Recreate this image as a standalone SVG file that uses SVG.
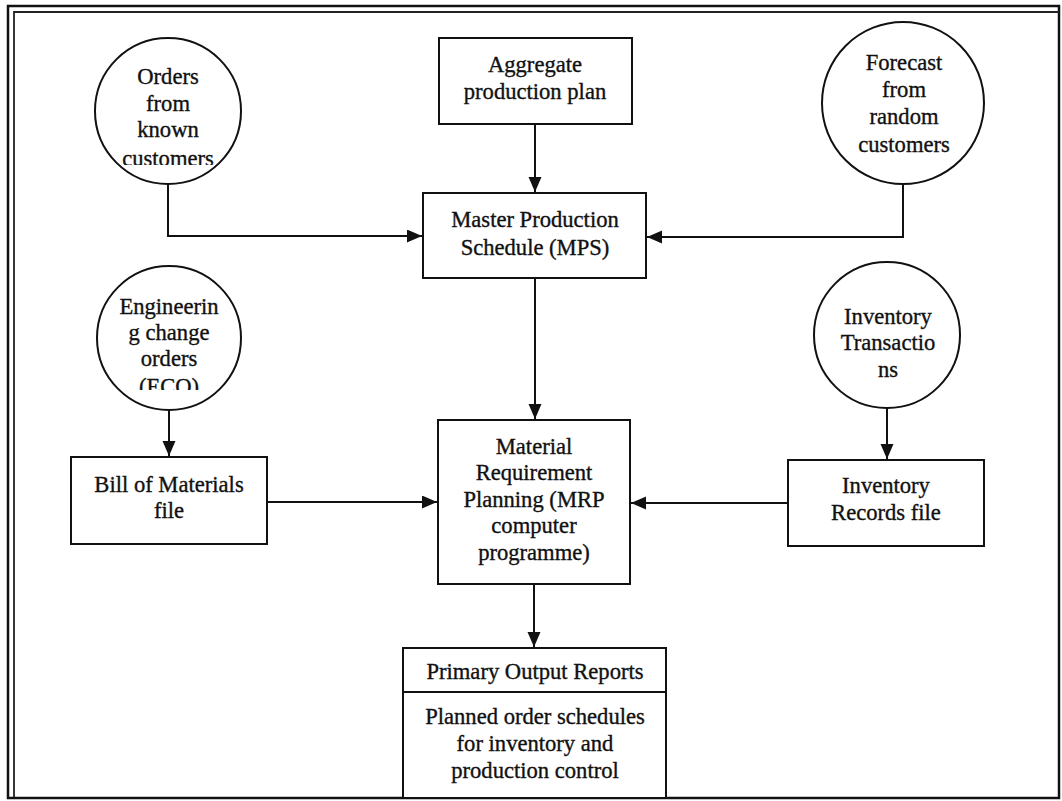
<svg xmlns="http://www.w3.org/2000/svg" width="1062" height="801" viewBox="0 0 1062 801">
<style>
.box{fill:#fff;stroke:#111;stroke-width:2}
.conn{fill:none;stroke:#111;stroke-width:2}
text{font-family:"Liberation Serif","Times New Roman",serif;font-size:22.6px;fill:#111;stroke:#111;stroke-width:0.35;text-anchor:middle}
</style>
<defs>
<marker id="arr" markerUnits="userSpaceOnUse" markerWidth="16" markerHeight="14" refX="15" refY="6.5" orient="auto">
<path d="M0,0 L15,6.5 L0,13 z" fill="#111"/>
</marker>
<clipPath id="clipOrders"><rect x="90" y="30" width="160" height="135"/></clipPath>
<clipPath id="clipEco"><rect x="90" y="260" width="160" height="130"/></clipPath>
</defs>
<rect x="0" y="0" width="1062" height="801" fill="#fff"/>
<g id="frame">
<rect x="8" y="6" width="1051" height="792" fill="none" stroke="#111" stroke-width="2.5"/>
<path d="M14,797 V12 H1059" fill="none" stroke="#222" stroke-width="1.8"/>
</g>
<g id="connectors">
<path class="conn" d="M168,184 V236 H422" marker-end="url(#arr)"/>
<path class="conn" d="M535,124 V192" marker-end="url(#arr)"/>
<path class="conn" d="M903,185 V237 H647" marker-end="url(#arr)"/>
<path class="conn" d="M535,278 V419" marker-end="url(#arr)"/>
<path class="conn" d="M169,410 V456" marker-end="url(#arr)"/>
<path class="conn" d="M267,502 H437" marker-end="url(#arr)"/>
<path class="conn" d="M887,407 V459" marker-end="url(#arr)"/>
<path class="conn" d="M788,503 H631" marker-end="url(#arr)"/>
<path class="conn" d="M534,584 V647" marker-end="url(#arr)"/>
</g>
<g id="orders">
<circle class="box" cx="168" cy="111" r="73"/>
<g clip-path="url(#clipOrders)">
<text x="168" y="84">Orders</text>
<text x="168" y="111">from</text>
<text x="168" y="137">known</text>
<text x="168" y="166">customers</text>
</g>
</g>
<g id="aggregate">
<rect class="box" x="439" y="38" width="193" height="86"/>
<text x="535" y="72">Aggregate</text>
<text x="535" y="99">production plan</text>
</g>
<g id="forecast">
<circle class="box" cx="903" cy="103" r="81"/>
<text x="904" y="70">Forecast</text>
<text x="904" y="97">from</text>
<text x="904" y="124">random</text>
<text x="904" y="152">customers</text>
</g>
<g id="mps">
<rect class="box" x="423" y="193" width="223" height="85"/>
<text x="535" y="227">Master Production</text>
<text x="535" y="255">Schedule (MPS)</text>
</g>
<g id="eco">
<circle class="box" cx="169" cy="338" r="72"/>
<g clip-path="url(#clipEco)">
<text x="169" y="314">Engineerin</text>
<text x="169" y="340">g change</text>
<text x="169" y="366">orders</text>
<text x="169" y="394">(ECO)</text>
</g>
</g>
<g id="inventory-transactions">
<circle class="box" cx="887" cy="335" r="73"/>
<text x="888" y="324">Inventory</text>
<text x="888" y="350">Transactio</text>
<text x="888" y="377">ns</text>
</g>
<g id="bom">
<rect class="box" x="71" y="457" width="196" height="87"/>
<text x="169" y="492">Bill of Materials</text>
<text x="169" y="518">file</text>
</g>
<g id="mrp">
<rect class="box" x="438" y="420" width="192" height="164"/>
<text x="534" y="454">Material</text>
<text x="534" y="480">Requirement</text>
<text x="534" y="507">Planning (MRP</text>
<text x="534" y="533">computer</text>
<text x="534" y="560">programme)</text>
</g>
<g id="inventory-records">
<rect class="box" x="788" y="460" width="196" height="86"/>
<text x="886" y="493">Inventory</text>
<text x="886" y="520">Records file</text>
</g>
<g id="output">
<rect class="box" x="403" y="648" width="263" height="150"/>
<line x1="403" y1="692" x2="666" y2="692" stroke="#111" stroke-width="2"/>
<text x="535" y="679">Primary Output Reports</text>
<text x="535" y="724">Planned order schedules</text>
<text x="535" y="751">for inventory and</text>
<text x="535" y="778">production control</text>
</g>
</svg>
